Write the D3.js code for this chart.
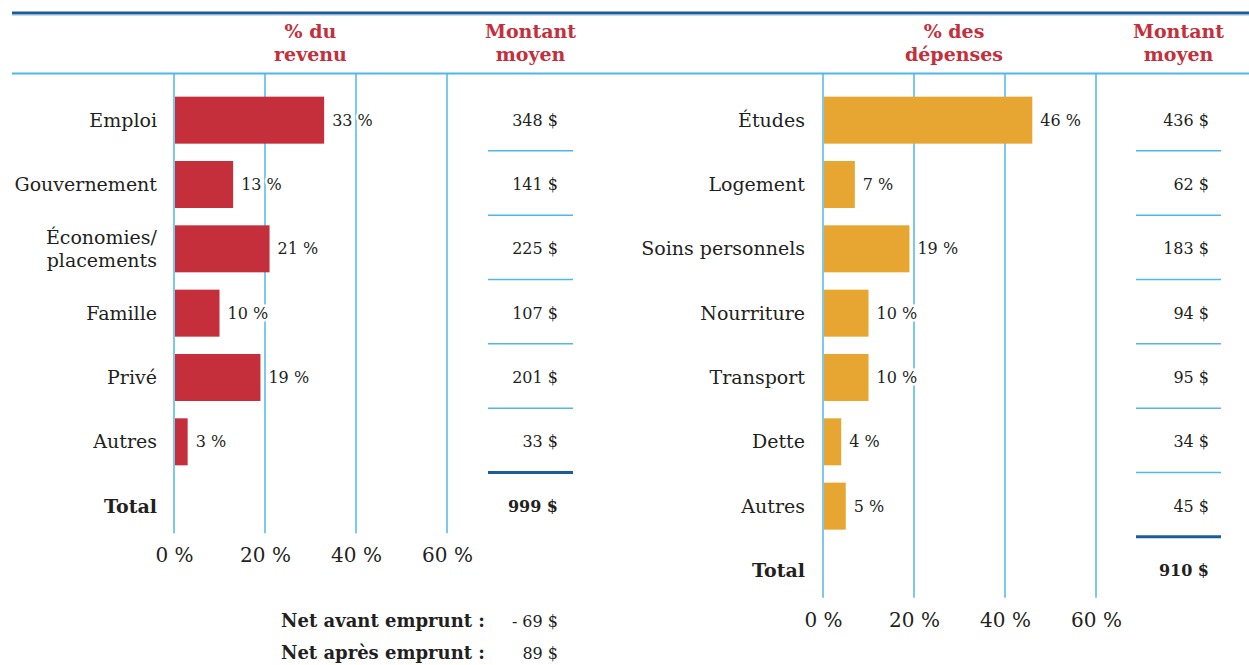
<!DOCTYPE html>
<html lang="fr">
<head>
<meta charset="utf-8">
<script src="https://cdn.jsdelivr.net/npm/d3@7"></script>
<style>
  html, body { margin: 0; padding: 0; background: #fff; }
  svg { display: block; }
  text { font-family: "DejaVu Serif", "Liberation Serif", serif; fill: #231f20; }
</style>
</head>
<body>
<svg id="chart" width="1249" height="665"></svg>
<script>
// Revenus (gauche)
const incomeCategories = ["Emploi", "Gouvernement", "Économies/\nplacements", "Famille", "Privé", "Autres"];
const incomeShare = [33, 13, 21, 10, 19, 3];
const incomeAmount = [348, 141, 225, 107, 201, 33];
const incomeTotal = 999;

// Dépenses (droite)
const expenseCategories = ["Études", "Logement", "Soins personnels", "Nourriture", "Transport", "Dette", "Autres"];
const expenseShare = [46, 7, 19, 10, 10, 4, 5];
const expenseAmount = [436, 62, 183, 94, 95, 34, 45];
const expenseTotal = 910;

// Soldes nets
const netLabels = ["Net avant emprunt :", "Net après emprunt :"];
const netValues = ["- 69 $", "89 $"];

const tickValues = [0, 20, 40, 60];

const RED = "#c42f3b";
const ORANGE = "#e6a631";
const GRID = "#4fb8e6";
const DARK = "#1c5d98";

const svg = d3.select("#chart");

// Top rules
svg.append("line").attr("x1", 12).attr("x2", 1249).attr("y1", 13).attr("y2", 13)
  .attr("stroke", DARK).attr("stroke-width", 3);
svg.append("line").attr("x1", 12).attr("x2", 1249).attr("y1", 15).attr("y2", 15)
  .attr("stroke", "#8fb7d9").attr("stroke-width", 1);
svg.append("line").attr("x1", 12).attr("x2", 1249).attr("y1", 73.5).attr("y2", 73.5)
  .attr("stroke", GRID).attr("stroke-width", 2);

const fmtMoney = v => d3.format(",")(v).replace(",", " ") + " $";

function panel(opt) {
  const g = svg.append("g");
  const rows = opt.categories.concat(["Total"]);
  const step = 64.33;
  const y = d3.scaleBand().domain(rows).range([88, 88 + rows.length * step]).padding(0);
  const x = d3.scaleLinear().domain([0, 60]).range([opt.x0, opt.x0 + 273]);
  const gridBottom = y.range()[1] - 5;

  // Headers
  const hdr = g.append("g").attr("font-weight", "bold").attr("font-size", 19)
    .attr("text-anchor", "middle");
  opt.header.forEach((t, i) => {
    hdr.append("text").attr("x", opt.headerX).attr("y", 38 + i * 23).style("fill", RED).text(t);
  });
  ["Montant", "moyen"].forEach((t, i) => {
    hdr.append("text").attr("x", (opt.colX1 + opt.colX2) / 2).attr("y", 38 + i * 23)
      .style("fill", RED).text(t);
  });

  // Gridlines
  g.append("g").selectAll("line").data(tickValues).join("line")
    .attr("x1", d => x(d)).attr("x2", d => x(d))
    .attr("y1", 74).attr("y2", gridBottom)
    .attr("stroke", GRID).attr("stroke-width", 1.5);

  // Axis tick labels
  const axis = d3.axisBottom(x).tickValues(tickValues).tickSize(0).tickPadding(0)
    .tickFormat(d => d + " %");
  const ax = g.append("g").attr("transform", `translate(0,${gridBottom + 29})`).call(axis);
  ax.select(".domain").remove();
  ax.selectAll("text").attr("font-size", 20).attr("dy", 0)
    .attr("font-family", "DejaVu Serif, serif").style("fill", "#231f20");

  const data = opt.categories.map((c, i) => ({ c, v: opt.share[i], a: opt.amount[i] }));
  const barH = 47;

  // Bars
  g.append("g").selectAll("rect").data(data).join("rect")
    .attr("x", x(0) + 1)
    .attr("y", d => y(d.c) + y.bandwidth() / 2 - barH / 2)
    .attr("width", d => x(d.v) - x(0) - 1)
    .attr("height", barH)
    .attr("fill", opt.color);

  // Value labels
  g.append("g").selectAll("text").data(data).join("text")
    .attr("x", d => x(d.v) + 8)
    .attr("y", d => y(d.c) + y.bandwidth() / 2)
    .attr("dy", "0.35em")
    .attr("font-size", 16)
    .attr("stroke", "#fff").attr("stroke-width", 5).attr("paint-order", "stroke")
    .text(d => d.v + " %");

  // Category labels
  const cats = g.append("g").attr("text-anchor", "end").attr("font-size", 19);
  rows.forEach(c => {
    const lines = c.split("\n");
    const cy = y(c) + y.bandwidth() / 2;
    const t = cats.append("text").attr("x", opt.labelX)
      .attr("font-weight", c === "Total" ? "bold" : null);
    lines.forEach((l, i) => {
      t.append("tspan").attr("x", opt.labelX)
        .attr("y", cy + (i - (lines.length - 1) / 2) * 23)
        .attr("dy", "0.35em").text(l);
    });
  });

  // Amount column
  const amt = g.append("g").attr("text-anchor", "end").attr("font-size", 16);
  data.forEach(d => {
    amt.append("text").attr("x", opt.amountX).attr("y", y(d.c) + y.bandwidth() / 2)
      .attr("dy", "0.35em").text(fmtMoney(d.a));
  });
  amt.append("text").attr("x", opt.amountX).attr("y", y("Total") + y.bandwidth() / 2)
    .attr("dy", "0.35em").attr("font-weight", "bold").text(fmtMoney(opt.total));

  // Separators between amounts
  data.forEach((d, i) => {
    const sy = y(d.c) + y.bandwidth() - 1.5;
    const last = i === data.length - 1;
    g.append("line").attr("x1", opt.colX1).attr("x2", opt.colX2)
      .attr("y1", sy).attr("y2", sy)
      .attr("stroke", last ? DARK : GRID).attr("stroke-width", last ? 3 : 1.5);
  });

  return { y, gridBottom };
}

panel({
  categories: incomeCategories, share: incomeShare, amount: incomeAmount, total: incomeTotal,
  x0: 174, labelX: 157, colX1: 488, colX2: 573, amountX: 558, color: RED,
  header: ["% du", "revenu"], headerX: 310.5
});

panel({
  categories: expenseCategories, share: expenseShare, amount: expenseAmount, total: expenseTotal,
  x0: 823, labelX: 805, colX1: 1136, colX2: 1221, amountX: 1209, color: ORANGE,
  header: ["% des", "dépenses"], headerX: 954
});

// Net balances
const net = svg.append("g").attr("font-size", 18);
netLabels.forEach((l, i) => {
  const cy = 621 + i * 32;
  net.append("text").attr("x", 485).attr("y", cy).attr("dy", "0.35em")
    .attr("text-anchor", "end").attr("font-weight", "bold").text(l);
  net.append("text").attr("x", 558).attr("y", cy).attr("dy", "0.35em")
    .attr("text-anchor", "end").attr("font-size", 16).text(netValues[i]);
});
</script>
</body>
</html>
